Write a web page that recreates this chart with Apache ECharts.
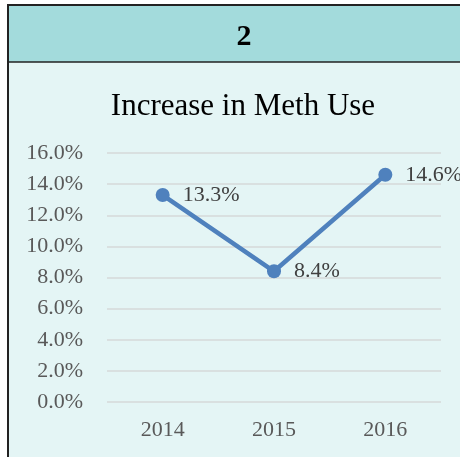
<!DOCTYPE html>
<html><head><meta charset="utf-8">
<script src="https://cdn.jsdelivr.net/npm/echarts@6/dist/echarts.min.js"></script>
<style>html,body{margin:0;padding:0;background:#fff;}#c{width:460px;height:457px;}</style>
</head><body><div id="c"></div>
<script>
const categories = ['2014', '2015', '2016'];
const values = [13.3, 8.4, 14.6];
const yTicks = [0, 2, 4, 6, 8, 10, 12, 14, 16];

const chart = echarts.init(document.getElementById('c'), null, {renderer: 'canvas'});
const serif = '"Liberation Serif", "DejaVu Serif", serif';
chart.setOption({
  animation: false,
  graphic: [
    {type: 'rect', shape: {x: 8, y: 62, width: 452, height: 395}, style: {fill: '#e4f5f5'}, z: -10},
    {type: 'rect', shape: {x: 8, y: 5, width: 452, height: 57}, style: {fill: '#a3dbdc'}, z: -10},
    {type: 'line', shape: {x1: 7, y1: 5, x2: 460, y2: 5}, style: {stroke: '#222', lineWidth: 2}},
    {type: 'line', shape: {x1: 8, y1: 62, x2: 460, y2: 62}, style: {stroke: '#222', lineWidth: 1.5}},
    {type: 'line', shape: {x1: 8, y1: 4, x2: 8, y2: 457}, style: {stroke: '#222', lineWidth: 2}}
  ],
  title: [
    {text: '2', left: 239, top: 17, textAlign: 'center',
      textStyle: {fontFamily: serif, fontSize: 30, fontWeight: 'bold', color: '#000'}},
    {text: 'Increase in Meth Use', left: 238, top: 86, textAlign: 'center',
      textStyle: {fontFamily: serif, fontSize: 31, fontWeight: 'normal', color: '#000'}}
  ],
  grid: {left: 107, right: 19, top: 153, bottom: 55, containLabel: false},
  xAxis: {
    type: 'category', data: categories, boundaryGap: true,
    axisLine: {show: false}, axisTick: {show: false},
    axisLabel: {fontFamily: serif, fontSize: 22, color: '#595959', margin: 17}
  },
  yAxis: {
    type: 'value', min: 0, max: 16, interval: 2,
    axisLine: {show: false}, axisTick: {show: false},
    splitLine: {lineStyle: {color: '#d6d9d9', width: 1.5}},
    axisLabel: {fontFamily: serif, fontSize: 22, color: '#595959', margin: 24,
      formatter: v => yTicks.includes(v) ? v.toFixed(1) + '%' : ''}
  },
  series: [{
    type: 'line', data: values,
    lineStyle: {color: '#4f81bd', width: 4.5},
    itemStyle: {color: '#4f81bd'},
    symbol: 'circle', symbolSize: 14,
    label: {show: true, position: 'right', distance: 13, fontFamily: serif, fontSize: 22, color: '#404040',
      formatter: p => p.value.toFixed(1) + '%'}
  }]
});
</script></body></html>
